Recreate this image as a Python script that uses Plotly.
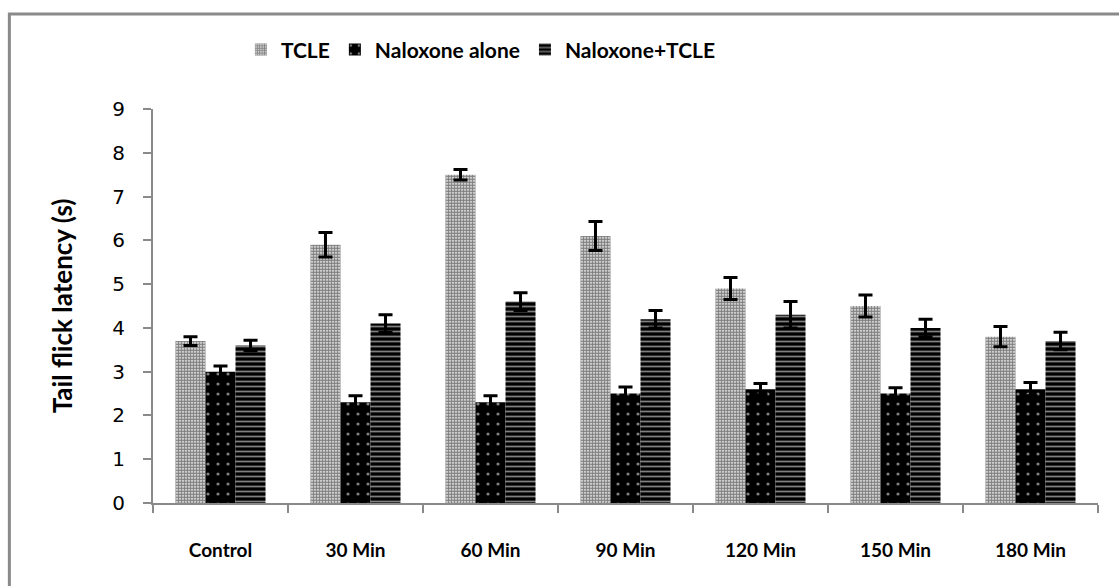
import plotly.graph_objects as go

# Tail flick latency (s) by time point
categories = ["Control", "30 Min", "60 Min", "90 Min", "120 Min", "150 Min", "180 Min"]

tcle = [3.7, 5.9, 7.5, 6.1, 4.9, 4.5, 3.8]
tcle_err = [0.1, 0.28, 0.12, 0.33, 0.25, 0.25, 0.23]

naloxone = [3.0, 2.3, 2.3, 2.5, 2.6, 2.5, 2.6]
naloxone_err = [0.13, 0.15, 0.15, 0.15, 0.13, 0.13, 0.15]

nalox_tcle = [3.6, 4.1, 4.6, 4.2, 4.3, 4.0, 3.7]
nalox_tcle_err = [0.12, 0.2, 0.2, 0.2, 0.3, 0.2, 0.2]

y_ticks = [0, 1, 2, 3, 4, 5, 6, 7, 8, 9]

err_style = dict(type="data", visible=True, color="black", thickness=3, width=7)

fig = go.Figure()
fig.add_trace(go.Bar(
    name="TCLE", x=categories, y=tcle,
    error_y=dict(array=tcle_err, **err_style),
    marker=dict(color="white", line=dict(width=0),
                pattern=dict(shape=".", fgcolor="black", bgcolor="white",
                             size=3, solidity=0.72)),
))
fig.add_trace(go.Bar(
    name="Naloxone alone", x=categories, y=naloxone,
    error_y=dict(array=naloxone_err, **err_style),
    marker=dict(color="black", line=dict(width=0),
                pattern=dict(shape=".", fgcolor="white", bgcolor="black",
                             size=10, solidity=0.08)),
))
fig.add_trace(go.Bar(
    name="Naloxone+TCLE", x=categories, y=nalox_tcle,
    error_y=dict(array=nalox_tcle_err, **err_style),
    marker=dict(color="black", line=dict(width=0),
                pattern=dict(shape="-", fgcolor="white", bgcolor="black",
                             size=5, solidity=0.35)),
))

# outer frame around the chart
fig.add_shape(type="rect", xref="paper", yref="paper",
              x0=-0.152, x1=1.2, y0=-0.4, y1=1.241,
              line=dict(color="#8a8a8a", width=3), layer="below")

fig.update_layout(
    width=1119, height=586,
    margin=dict(l=153, r=21, t=109, b=83, autoexpand=False),
    paper_bgcolor="white", plot_bgcolor="white",
    barmode="group", bargap=0.333, bargroupgap=0,
    showlegend=True,
    legend=dict(orientation="h", x=0.093, xanchor="left", y=1.15, yanchor="middle",
                font=dict(family="Lato", size=21, color="black", weight="bold"),
                bgcolor="rgba(0,0,0,0)", itemwidth=30, tracegroupgap=0),
    xaxis=dict(showline=True, linecolor="#8a8a8a", linewidth=2,
               ticks="outside", ticklen=8, tickcolor="#8a8a8a", tickwidth=2,
               tickson="boundaries", ticklabelstandoff=29,
               tickfont=dict(family="Lato", size=19, color="black", weight="bold")),
    yaxis=dict(range=[0, 9], tickvals=y_ticks, showline=True, linecolor="#8a8a8a",
               linewidth=2, ticks="outside", ticklen=8, tickcolor="#8a8a8a",
               tickwidth=2, showgrid=False, zeroline=False, ticklabelstandoff=14,
               tickfont=dict(family="DejaVu Sans", size=20, color="black"),
               title=dict(text="Tail flick latency (s)", standoff=32,
                          font=dict(family="Lato", size=26, color="black",
                                    weight="bold"))),
)

fig.write_html("out.html")
